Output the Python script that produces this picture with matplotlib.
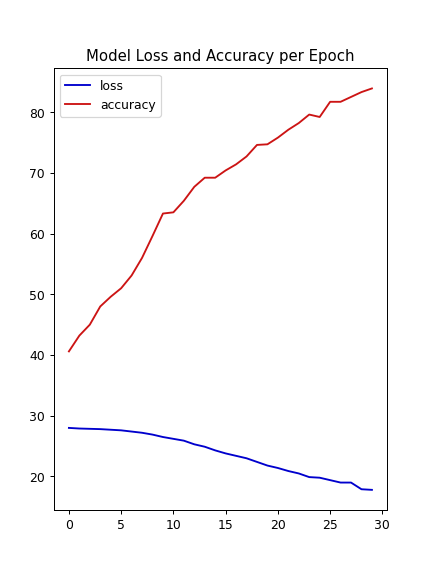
import matplotlib
matplotlib.use('Agg')
import matplotlib.pyplot as plt

epochs = list(range(30))
loss = [28.0, 27.9, 27.85, 27.8, 27.7, 27.6, 27.4, 27.2, 26.9, 26.5,
        26.2, 25.9, 25.3, 24.9, 24.3, 23.8, 23.4, 23.0, 22.4, 21.8,
        21.4, 20.9, 20.5, 19.9, 19.8, 19.4, 19.0, 19.0, 17.9, 17.8]
accuracy = [40.6, 43.2, 45.0, 48.0, 49.6, 51.0, 53.1, 56.0, 59.6, 63.3,
            63.5, 65.4, 67.7, 69.2, 69.2, 70.4, 71.4, 72.7, 74.6, 74.7,
            75.8, 77.1, 78.2, 79.6, 79.2, 81.7, 81.7, 82.5, 83.3, 83.9]


def main():
    # default 4.8x6.4 figure, saved at a lower dpi
    fig, ax = plt.subplots(figsize=(4.8, 6.4), dpi=89.6)

    ax.plot(epochs, loss, color='mediumblue', label='loss')
    ax.plot(epochs, accuracy, color='#cc1414', label='accuracy')
    ax.set_title('Model Loss and Accuracy per Epoch')
    ax.legend(loc='upper left')

    fig.savefig('out.png', dpi=89.6)


if __name__ == '__main__':
    main()
